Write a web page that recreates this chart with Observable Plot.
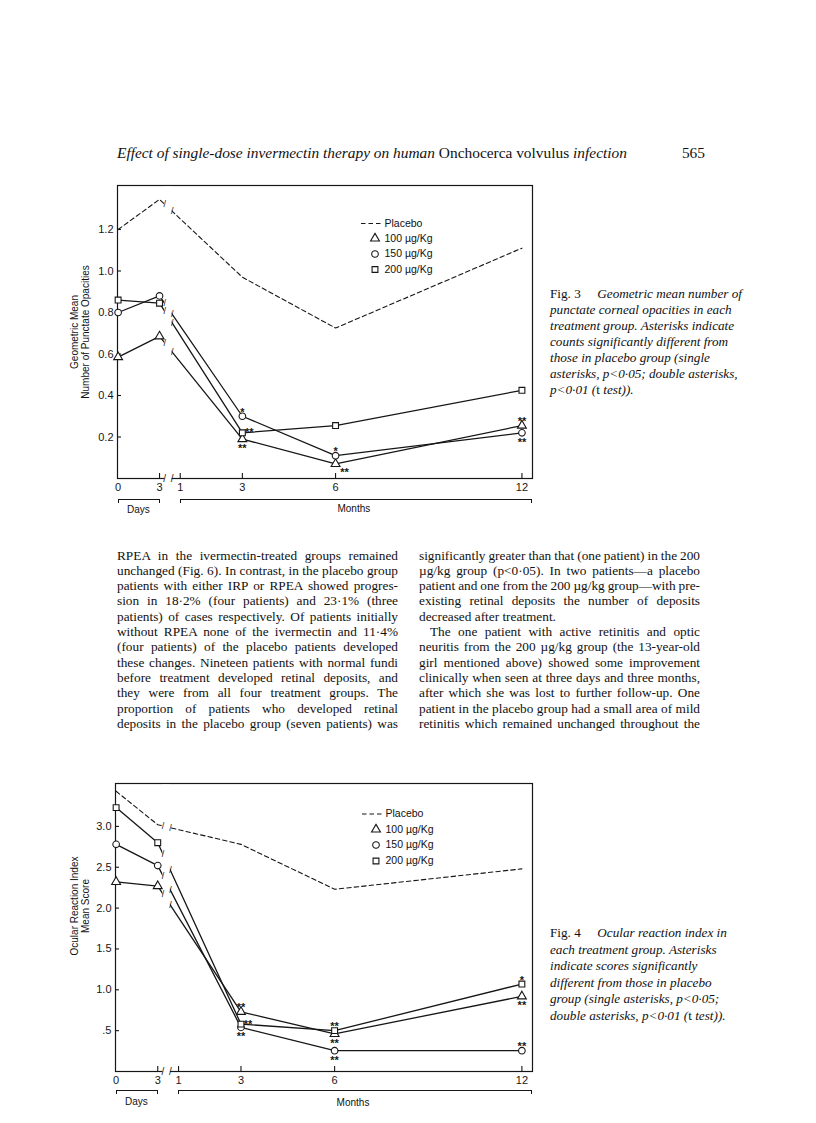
<!DOCTYPE html>
<html><head><meta charset="utf-8">
<script src="https://cdn.jsdelivr.net/npm/d3@7"></script>
<script src="https://cdn.jsdelivr.net/npm/@observablehq/plot@0.6"></script>
<style>
body{margin:0;background:#fff;}
#page{position:relative;width:816px;height:1123px;overflow:hidden;background:#fff;color:#111;font-family:"Liberation Serif","Times New Roman",serif;}
</style></head><body><div id="page"></div>
<script>
// ---------------- data ----------------
const timeUnits  = ["day", "day", "month", "month", "month"];
const timeValues = [0, 3, 3, 6, 12];
const xTickLabels = ["0", "3", "1", "3", "6", "12"];
const doseKeys = ["100", "150", "200"];
const legendLabels = ["Placebo", "100 µg/Kg", "150 µg/Kg", "200 µg/Kg"];

// Fig. 3  geometric mean number of punctate opacities
const fig3Placebo = [1.20, 1.345, 0.97, 0.725, 1.11];
const fig3Dose100 = [0.585, 0.685, 0.19, 0.07, 0.255];
const fig3Dose150 = [0.80, 0.88, 0.30, 0.11, 0.22];
const fig3Dose200 = [0.86, 0.845, 0.22, 0.255, 0.425];
const fig3YTicks = [0.2, 0.4, 0.6, 0.8, 1.0, 1.2];
const fig3YTickLabels = ["0.2", "0.4", "0.6", "0.8", "1.0", "1.2"];
const fig3Sig = [
  {series: "150", t: 2, mark: "*",  side: "above"},
  {series: "200", t: 2, mark: "**", side: "right"},
  {series: "100", t: 2, mark: "**", side: "below"},
  {series: "150", t: 3, mark: "*",  side: "above"},
  {series: "100", t: 3, mark: "**", side: "belowright"},
  {series: "100", t: 4, mark: "**", side: "above"},
  {series: "150", t: 4, mark: "**", side: "below"}
];

// Fig. 4  ocular reaction index, mean score
const fig4Placebo = [3.43, 3.02, 2.78, 2.23, 2.48];
const fig4Dose100 = [2.32, 2.27, 0.73, 0.46, 0.92];
const fig4Dose150 = [2.78, 2.52, 0.54, 0.255, 0.255];
const fig4Dose200 = [3.23, 2.80, 0.58, 0.50, 1.07];
const fig4YTicks = [0.5, 1.0, 1.5, 2.0, 2.5, 3.0];
const fig4YTickLabels = [".5", "1.0", "1.5", "2.0", "2.5", "3.0"];
const fig4Sig = [
  {series: "100", t: 2, mark: "**", side: "above"},
  {series: "200", t: 2, mark: "**", side: "right"},
  {series: "150", t: 2, mark: "**", side: "below"},
  {series: "200", t: 3, mark: "**", side: "above"},
  {series: "100", t: 3, mark: "**", side: "below"},
  {series: "150", t: 3, mark: "**", side: "below"},
  {series: "200", t: 4, mark: "*",  side: "above"},
  {series: "100", t: 4, mark: "**", side: "below"},
  {series: "150", t: 4, mark: "**", side: "above"}
];

// body text
const headerItalic1 = "Effect of single-dose invermectin therapy on human ";
const headerRoman = "Onchocerca volvulus";
const headerItalic2 = " infection";
const pageNumber = "565";
const leftColumn = [
  "RPEA in the ivermectin-treated groups remained",
  "unchanged (Fig. 6). In contrast, in the placebo group",
  "patients with either IRP or RPEA showed progres-",
  "sion in 18·2% (four patients) and 23·1% (three",
  "patients) of cases respectively. Of patients initially",
  "without RPEA none of the ivermectin and 11·4%",
  "(four patients) of the placebo patients developed",
  "these changes. Nineteen patients with normal fundi",
  "before treatment developed retinal deposits, and",
  "they were from all four treatment groups. The",
  "proportion of patients who developed retinal",
  "deposits in the placebo group (seven patients) was"
];
const rightColumn = [
  "significantly greater than that (one patient) in the 200",
  "µg/kg group (p<0·05). In two patients—a placebo",
  "patient and one from the 200 µg/kg group—with pre-",
  "existing retinal deposits the number of deposits",
  "decreased after treatment.",
  "The one patient with active retinitis and optic",
  "neuritis from the 200 µg/kg group (the 13-year-old",
  "girl mentioned above) showed some improvement",
  "clinically when seen at three days and three months,",
  "after which she was lost to further follow-up. One",
  "patient in the placebo group had a small area of mild",
  "retinitis which remained unchanged throughout the"
];
const fig3Caption = [
  [["Fig. 3", 0], ["\u2003 Geometric mean number of", 1]],
  [["punctate corneal opacities in each", 1]],
  [["treatment group. Asterisks indicate", 1]],
  [["counts significantly different from", 1]],
  [["those in placebo group (single", 1]],
  [["asterisks, p<0·05; double asterisks,", 1]],
  [["p<0·01 (", 1], ["t", 0], [" test)).", 1]]
];
const fig4Caption = [
  [["Fig. 4", 0], ["\u2003 Ocular reaction index in", 1]],
  [["each treatment group. Asterisks", 1]],
  [["indicate scores significantly", 1]],
  [["different from those in placebo", 1]],
  [["group (single asterisks, p<0·05;", 1]],
  [["double asterisks, p<0·01 (", 1], ["t", 0], [" test)).", 1]]
];

// ---------------- helpers ----------------
const page = document.getElementById("page");
const SANS = "'Liberation Sans', Arial, sans-serif";
const INK = "#161616";
// broken time axis: days squeezed before month 1
function dayPos(d) { return -1 + d * 4 / 9; }
function xOf(i) { return timeUnits[i] === "day" ? dayPos(timeValues[i]) : timeValues[i]; }
const xTickPos = [dayPos(0), dayPos(3), 1, 3, 6, 12];
const X_DOMAIN = [-1.02, 12.34];
const BREAK = [0.5, 0.74];

function el(tag, css, text) {
  const e = document.createElement(tag);
  if (css) e.style.cssText = css;
  if (text != null) e.textContent = text;
  page.appendChild(e);
  return e;
}

function buildFig(cfg) {
  const placeboRows = cfg.placebo.map((v, i) => ({series: "Placebo", x: xOf(i), y: v}));
  const doseRows = [];
  cfg.doses.forEach((arr, k) => arr.forEach((v, i) => doseRows.push({series: doseKeys[k], x: xOf(i), y: v, t: i})));
  const innerW = cfg.width - cfg.ml - cfg.mr;
  const innerH = cfg.height - cfg.mt - cfg.mb;

  // break marks at the ends of the gap on each line (segment day 3 -> month 3)
  const brk = [];
  [cfg.placebo, ...cfg.doses].forEach(arr => {
    const x1 = xOf(1), x2 = xOf(2), y1 = arr[1], y2 = arr[2];
    BREAK.forEach(xb => brk.push({x: xb, y: y1 + (y2 - y1) * (xb - x1) / (x2 - x1)}));
  });
  const axisBrk = BREAK.map(xb => ({x: xb, y: cfg.yDomain[0]}));

  const sigRows = cfg.sig.map(s => {
    const arr = cfg.doses[doseKeys.indexOf(s.series)];
    return {...s, x: xOf(s.t), y: arr[s.t]};
  });
  const sigMark = (side, dx, dy) => Plot.text(sigRows.filter(s => s.side === side),
    {x: "x", y: "y", text: "mark", dx, dy, fontSize: 11, fontWeight: "bold", fill: INK});

  const chart = Plot.plot({
    width: cfg.width, height: cfg.height,
    marginLeft: cfg.ml, marginRight: cfg.mr, marginTop: cfg.mt, marginBottom: cfg.mb,
    x: {type: "linear", domain: X_DOMAIN, label: null},
    y: {type: "linear", domain: cfg.yDomain, label: null},
    symbol: {domain: doseKeys, range: ["triangle", "circle", "square"]},
    style: {fontFamily: SANS, fontSize: "11px", color: INK, background: "white", overflow: "visible"},
    marks: [
      Plot.frame({stroke: INK, strokeWidth: 1.2}),
      Plot.tickY(cfg.yTicks, {y: d => d, insetRight: innerW - 4, stroke: INK, strokeWidth: 1.1}),
      Plot.tickX(xTickPos.slice(1), {x: d => d, insetTop: innerH - 5, stroke: INK, strokeWidth: 1.1}),
      Plot.line(placeboRows, {x: "x", y: "y", stroke: INK, strokeWidth: 1.1, strokeDasharray: "4.5,3"}),
      Plot.line(doseRows, {x: "x", y: "y", z: "series", stroke: INK, strokeWidth: 1.3}),
      Plot.rect([0], {x1: () => BREAK[0], x2: () => BREAK[1], y1: () => cfg.yDomain[0], y2: () => cfg.yDomain[1],
        fill: "white", insetTop: 1.5, insetBottom: -2}),
      Plot.text(brk, {x: "x", y: "y", text: () => "/", fontSize: 9, fill: INK}),
      Plot.text(axisBrk, {x: "x", y: "y", text: () => "/", fontSize: 10, fill: INK}),
      Plot.dot(doseRows, {x: "x", y: "y", symbol: "series", r: 3.3, fill: "white", stroke: INK, strokeWidth: 1.1}),
      sigMark("above", 0, -4),
      sigMark("below", 0, 9.5),
      sigMark("right", 7, 0),
      sigMark("belowright", 9, 8),
      Plot.axisY(cfg.yTicks, {anchor: "left", tickSize: 0, tickPadding: 4, label: null, fontSize: 11,
        tickFormat: d => cfg.yLabels[cfg.yTicks.indexOf(d)]}),
      Plot.axisX(xTickPos, {anchor: "bottom", tickSize: 0, tickPadding: 5, label: null, fontSize: 11,
        tickFormat: d => xTickLabels[xTickPos.indexOf(d)]})
    ]
  });
  chart.style.position = "absolute";
  chart.style.left = cfg.left + "px";
  chart.style.top = cfg.top + "px";
  page.appendChild(chart);

  // brackets under the axis (Days / Months), placed with the plot's x scale
  const sx = chart.scale("x");
  const px = v => cfg.left + sx.apply(v);
  const right = cfg.left + cfg.width - cfg.mr;
  const bracket = (a, b, label, labelX, ly) => {
    el("div", `position:absolute;left:${a}px;top:${cfg.bracketY}px;width:${b - a}px;height:3.5px;border:1.2px solid ${INK};border-bottom:none;box-sizing:border-box;`);
    el("div", `position:absolute;left:${labelX}px;top:${ly}px;transform:translate(-50%,-50%);font:10px ${SANS};white-space:nowrap;`, label);
  };
  bracket(px(dayPos(0)), px(dayPos(3)) + 1, "Days", (px(dayPos(0)) + px(dayPos(3))) / 2, cfg.daysY);
  bracket(px(1), right, "Months", (px(1) + right) / 2 - 2, cfg.monthsY);

  // rotated y-axis titles
  cfg.yTitle.forEach((t, k) => {
    el("div", `position:absolute;left:${cfg.yTitleX[k]}px;top:${cfg.yTitleY}px;transform:translate(-50%,-50%) rotate(-90deg);font:10px ${SANS};white-space:nowrap;`, t);
  });

  // legend
  const lg = cfg.legend;
  const svg = d3.select(page).append("svg")
    .style("position", "absolute").style("left", "0px").style("top", "0px")
    .attr("width", 816).attr("height", 1123).style("pointer-events", "none");
  svg.append("line").attr("x1", lg.x - 14).attr("x2", lg.x + 8).attr("y1", lg.ys[0]).attr("y2", lg.ys[0])
    .attr("stroke", INK).attr("stroke-width", 1.1).attr("stroke-dasharray", "4.5,3");
  const syms = [d3.symbolTriangle, d3.symbolCircle, d3.symbolSquare];
  syms.forEach((s, k) => {
    svg.append("path").attr("d", d3.symbol(s, Math.PI * 3.3 * 3.3)())
      .attr("transform", `translate(${lg.x},${lg.ys[k + 1]})`)
      .attr("fill", "white").attr("stroke", INK).attr("stroke-width", 1.1);
  });
  legendLabels.forEach((t, k) => {
    el("div", `position:absolute;left:${lg.x + 9.5}px;top:${lg.ys[k] - 7}px;height:14px;line-height:14px;font:10.5px ${SANS};white-space:nowrap;`, t);
  });
  return chart;
}

// ---------------- figures ----------------
buildFig({
  left: 40, top: 175, width: 500, height: 325, ml: 77, mr: 8, mt: 10, mb: 22,
  yDomain: [0, 1.412], yTicks: fig3YTicks, yLabels: fig3YTickLabels,
  placebo: fig3Placebo, doses: [fig3Dose100, fig3Dose150, fig3Dose200], sig: fig3Sig,
  bracketY: 499, daysY: 509, monthsY: 508,
  yTitle: ["Geometric Mean", "Number of Punctate Opacities"], yTitleX: [74, 85], yTitleY: 332,
  legend: {x: 375, ys: [223.5, 238.5, 254, 269.5]}
});
buildFig({
  left: 40, top: 773, width: 500, height: 320, ml: 75, mr: 8, mt: 10, mb: 22,
  yDomain: [0, 3.525], yTicks: fig4YTicks, yLabels: fig4YTickLabels,
  placebo: fig4Placebo, doses: [fig4Dose100, fig4Dose150, fig4Dose200], sig: fig4Sig,
  bracketY: 1090, daysY: 1100.5, monthsY: 1101.5,
  yTitle: ["Ocular Reaction Index", "Mean Score"], yTitleX: [74, 85], yTitleY: 906,
  legend: {x: 376, ys: [814, 829.5, 845, 861]}
});

// ---------------- page text ----------------
function textLine(parts, x, yc, o) {
  const d = el("div", `position:absolute;left:${x}px;top:${yc - o.lh / 2}px;height:${o.lh}px;line-height:${o.lh}px;font-size:${o.size}px;white-space:nowrap;`);
  parts.forEach(([t, ital]) => {
    const s = document.createElement("span");
    s.textContent = t;
    if (ital) s.style.fontStyle = "italic";
    d.appendChild(s);
  });
  if (o.width) {
    const nat = d.getBoundingClientRect().width;
    const n = (d.textContent.match(/ /g) || []).length;
    if (n) d.style.wordSpacing = ((o.width - nat) / n) + "px";
  }
  return d;
}

// running head
textLine([[headerItalic1, 1], [headerRoman, 0], [headerItalic2, 1]], 117, 153, {lh: 18, size: 15.4});
const pn = textLine([[pageNumber, 0]], 0, 153, {lh: 18, size: 15.4});
pn.style.left = (705 - pn.getBoundingClientRect().width) + "px";

// two columns of body text
const BODY = {lh: 15, size: 13.3};
const PITCH = 15.3, TOP = 555;
leftColumn.forEach((t, i) => textLine([[t, 0]], 117, TOP + i * PITCH, {...BODY, width: 281}));
rightColumn.forEach((t, i) => {
  const indent = i === 5 ? 11 : 0;
  const justify = i !== 4;
  textLine([[t, 0]], 419 + indent, TOP + i * PITCH, {...BODY, width: justify ? 281 - indent : 0});
});

// captions
fig3Caption.forEach((p, i) => textLine(p, 550, 294 + i * 16, {lh: 16, size: 13.2}));
fig4Caption.forEach((p, i) => textLine(p, 550, 933 + i * 16.6, {lh: 16, size: 13.2}));
</script></body></html>
